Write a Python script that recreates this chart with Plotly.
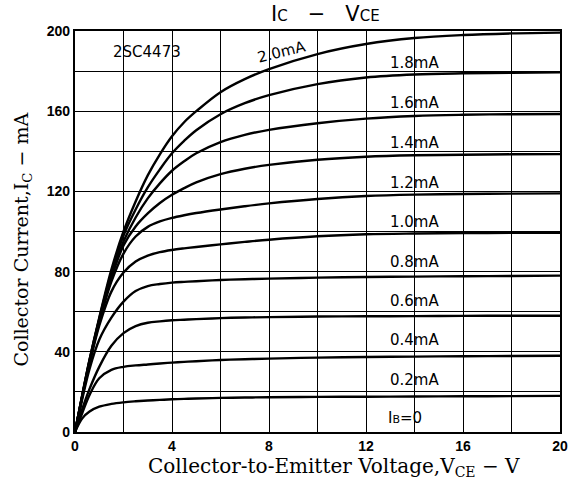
import plotly.graph_objects as go

# ---- data ----
vce = [0, 0.3, 0.6, 1, 1.5, 2, 2.5, 3, 3.5, 4, 4.5, 5, 6, 7, 8, 10, 12, 14, 16, 18, 20]

ib_labels = ["2.0mA", "1.8mA", "1.6mA", "1.4mA", "1.2mA", "1.0mA",
             "0.8mA", "0.6mA", "0.4mA", "0.2mA"]

ic_20 = [0, 18.5, 36, 57, 81, 100, 115, 128, 138.5, 147.5, 154.5, 160, 169.5, 176, 181, 188.5, 193.5, 196.5, 198, 198.8, 199.2]
ic_18 = [0, 18.5, 36, 56.5, 79.5, 98, 111, 122, 131, 139, 145.2, 150.5, 158.5, 164, 168, 173.5, 176.8, 178.3, 178.9, 179.2, 179.4]
ic_16 = [0, 18, 35.5, 56, 78, 95, 107, 116.5, 124, 130.3, 135, 139, 144.6, 148.2, 150.7, 154, 156.3, 157.6, 158.2, 158.5, 158.6]
ic_14 = [0, 18, 35, 55.5, 77, 93, 102.5, 109, 114.2, 118.3, 121.6, 124.5, 128.6, 131.3, 133.2, 135.8, 137.3, 138, 138.3, 138.5, 138.6]
ic_12 = [0, 18, 34.5, 54.5, 75, 89, 97.5, 102.3, 105, 106.8, 108.1, 109.2, 111, 112.6, 114, 116.2, 117.7, 118.4, 118.7, 118.9, 119]
ic_10 = [0, 17.5, 34, 53, 70, 79.5, 85, 88, 89.7, 90.8, 91.6, 92.3, 93.6, 94.8, 95.9, 97.6, 98.6, 99, 99.2, 99.3, 99.4]
ic_08 = [0, 16.5, 31.5, 46, 57, 65, 70.3, 72.8, 73.8, 74.5, 74.9, 75.2, 75.8, 76.2, 76.5, 77, 77.3, 77.5, 77.7, 77.8, 78]
ic_06 = [0, 11.5, 21.5, 32.5, 43, 49.3, 52.8, 54.5, 55.2, 55.7, 56, 56.3, 56.8, 57.1, 57.3, 57.6, 57.7, 57.8, 57.9, 58, 58]
ic_04 = [0, 9.5, 18.5, 26.8, 31, 32.5, 33.2, 33.7, 34.2, 34.6, 35, 35.3, 35.9, 36.3, 36.6, 37.1, 37.4, 37.6, 37.8, 37.9, 38]
ic_02 = [0, 6.8, 10.2, 12.6, 14, 14.8, 15.3, 15.7, 16, 16.3, 16.5, 16.7, 17, 17.2, 17.3, 17.5, 17.6, 17.7, 17.8, 17.9, 18]

x_major = [0, 4, 8, 12, 16, 20]
x_minor = [2, 6, 10, 14, 18]
y_major = [0, 40, 80, 120, 160, 200]
y_minor = [20, 60, 100, 140, 180]

part_no = "2SC4473"

# ---- figure ----
series = [ic_20, ic_18, ic_16, ic_14, ic_12, ic_10, ic_08, ic_06, ic_04, ic_02]
fig = go.Figure()
for name, ys in zip(ib_labels, series):
    fig.add_trace(go.Scatter(x=vce, y=ys, mode="lines", name=name,
                             line=dict(color="black", width=2.4, shape="spline", smoothing=1.0),
                             showlegend=False, hoverinfo="skip"))

label_font = dict(family="DejaVu Sans", size=15, color="black")
label_y = [None, 184, 164, 144, 124, 104.5, 85, 65.3, 45.8, 25.8]
for txt, ly in zip(ib_labels, label_y):
    if ly is None:
        continue
    fig.add_annotation(x=14.0, y=ly, text=txt, showarrow=False, font=label_font,
                       xanchor="center", yanchor="middle")
fig.add_annotation(x=13.6, y=6.8, text="I<span style='font-size:11px'>B</span>=0",
                   showarrow=False, font=label_font, xanchor="center", yanchor="middle")
fig.add_annotation(x=8.5, y=189.5, text=ib_labels[0], showarrow=False,
                   font=label_font, textangle=-14, xanchor="center", yanchor="middle")
fig.add_annotation(x=2.96, y=189.5, text=part_no, showarrow=False, font=label_font,
                   xanchor="center", yanchor="middle")

# title
fig.add_annotation(xref="paper", yref="paper", x=0.516, y=1.043,
                   xanchor="center", yanchor="middle",
                   text="I<span style='font-size:15px'>C</span>   \u2212   V<span style='font-size:15px'>CE</span>",
                   showarrow=False, font=dict(family="DejaVu Sans", size=21, color="black"))
# axis titles
fig.add_annotation(xref="paper", yref="paper", x=0.535, y=-0.087,
                   xanchor="center", yanchor="middle",
                   text="Collector-to-Emitter Voltage,V<sub>CE</sub> \u2212 V",
                   showarrow=False, font=dict(family="DejaVu Serif", size=20, color="black"))
fig.add_annotation(xref="paper", yref="paper", x=-0.108, y=0.479,
                   xanchor="center", yanchor="middle",
                   text="Collector Current,I<sub>C</sub> \u2212 mA",
                   showarrow=False, font=dict(family="DejaVu Serif", size=19, color="black"),
                   textangle=-90)

grid = dict(showgrid=True, gridcolor="black", gridwidth=1.3)
axis_common = dict(showline=True, linecolor="black", linewidth=2.2, mirror=True,
                   zeroline=False, ticks="", **grid,
                   tickfont=dict(family="Liberation Sans", size=14, color="black", weight="bold"))
fig.update_xaxes(range=[0, 20], tickvals=x_major,
                 minor=dict(tickvals=x_minor, ticks="", **grid), **axis_common)
fig.update_yaxes(range=[0, 200], tickvals=y_major,
                 minor=dict(tickvals=y_minor, ticks="", **grid), **axis_common)

fig.update_layout(width=580, height=486, margin=dict(l=75, r=15, t=31, b=54),
                  paper_bgcolor="white", plot_bgcolor="white")

fig.write_html("out.html", config={"displayModeBar": False},
               post_script="document.body.style.margin='0px';")
